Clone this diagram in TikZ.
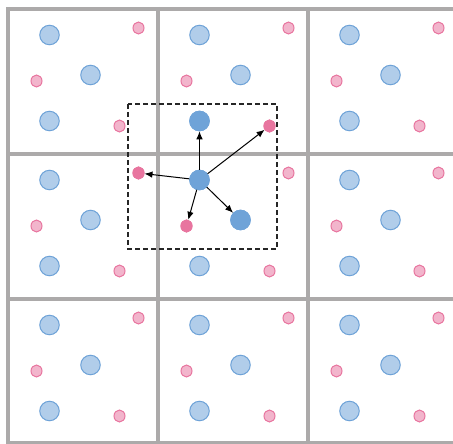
\documentclass[tikz,border=0pt]{standalone}
\usepackage{tikz}
\usetikzlibrary{arrows.meta,shapes.geometric}
\definecolor{ptblue}{HTML}{6FA3D8}
\definecolor{ptbluelight}{HTML}{B1CDEA}
\definecolor{ptpink}{HTML}{E8759F}
\definecolor{ptpinklight}{HTML}{F2B5CC}
\definecolor{gridgray}{HTML}{ACAAAA}

\begin{document}
\begin{tikzpicture}[x=1pt, y=-1pt,
    big/.style={circle, draw=ptblue, fill=ptbluelight, line width=1pt, minimum size=19.5pt, inner sep=0pt},
    small/.style={ellipse, draw=ptpink, fill=ptpinklight, line width=1pt, minimum width=11pt, minimum height=12pt, inner sep=0pt},
    bighl/.style={big, fill=ptblue},
    smallhl/.style={small, fill=ptpink},
    cellline/.style={draw=gridgray, line width=4pt},
    arrow/.style={-{Latex[length=8pt,width=6.5pt]}, line width=1pt},
    window/.style={draw=black!85, line width=1.5pt, dash pattern=on 5pt off 3pt}
]
    \useasboundingbox (0,0) rectangle (453,444);
    \clip (0,0) rectangle (453,444);

    % cell borders
    \foreach \x in {8,158,308,458} \draw[cellline] (\x,7) -- (\x,445);
    \foreach \y in {9,154,299,443} \draw[cellline] (6,\y) -- (460,\y);

    % same points in every cell
    \foreach \i in {0,1,2} {
      \foreach \j in {0,1,2} {
        \begin{scope}[shift={({8+150*\i},{9+145*\j})}]
          \node[big] (b1-\i-\j) at (41.5,26) {};
          \node[big] (b2-\i-\j) at (82.5,66) {};
          \node[big] (b3-\i-\j) at (41.5,112) {};
          \node[small] (s1-\i-\j) at (130.5,19) {};
          \node[small] (s2-\i-\j) at (28.5,72) {};
          \node[small] (s3-\i-\j) at (111.5,117) {};
        \end{scope}
      }
    }

    % search window
    \draw[window] (128,104) rectangle (277,249);

    % query and its neighbours
    \node[bighl] (query) at (b1-1-1.center) {};
    \node[bighl] (nup) at (b3-1-0.center) {};
    \node[bighl] (ndr) at (b2-1-1.center) {};
    \node[smallhl] (nur) at (s3-1-0.center) {};
    \node[smallhl] (nleft) at (s1-0-1.center) {};
    \node[smallhl] (ndown) at (s2-1-1.center) {};

    \draw[arrow] (query) -- (nup);
    \draw[arrow] (query) -- (nur);
    \draw[arrow] (query) -- (nleft);
    \draw[arrow] (query) -- (ndown);
    \draw[arrow] (query) -- (ndr);
\end{tikzpicture}
\end{document}
